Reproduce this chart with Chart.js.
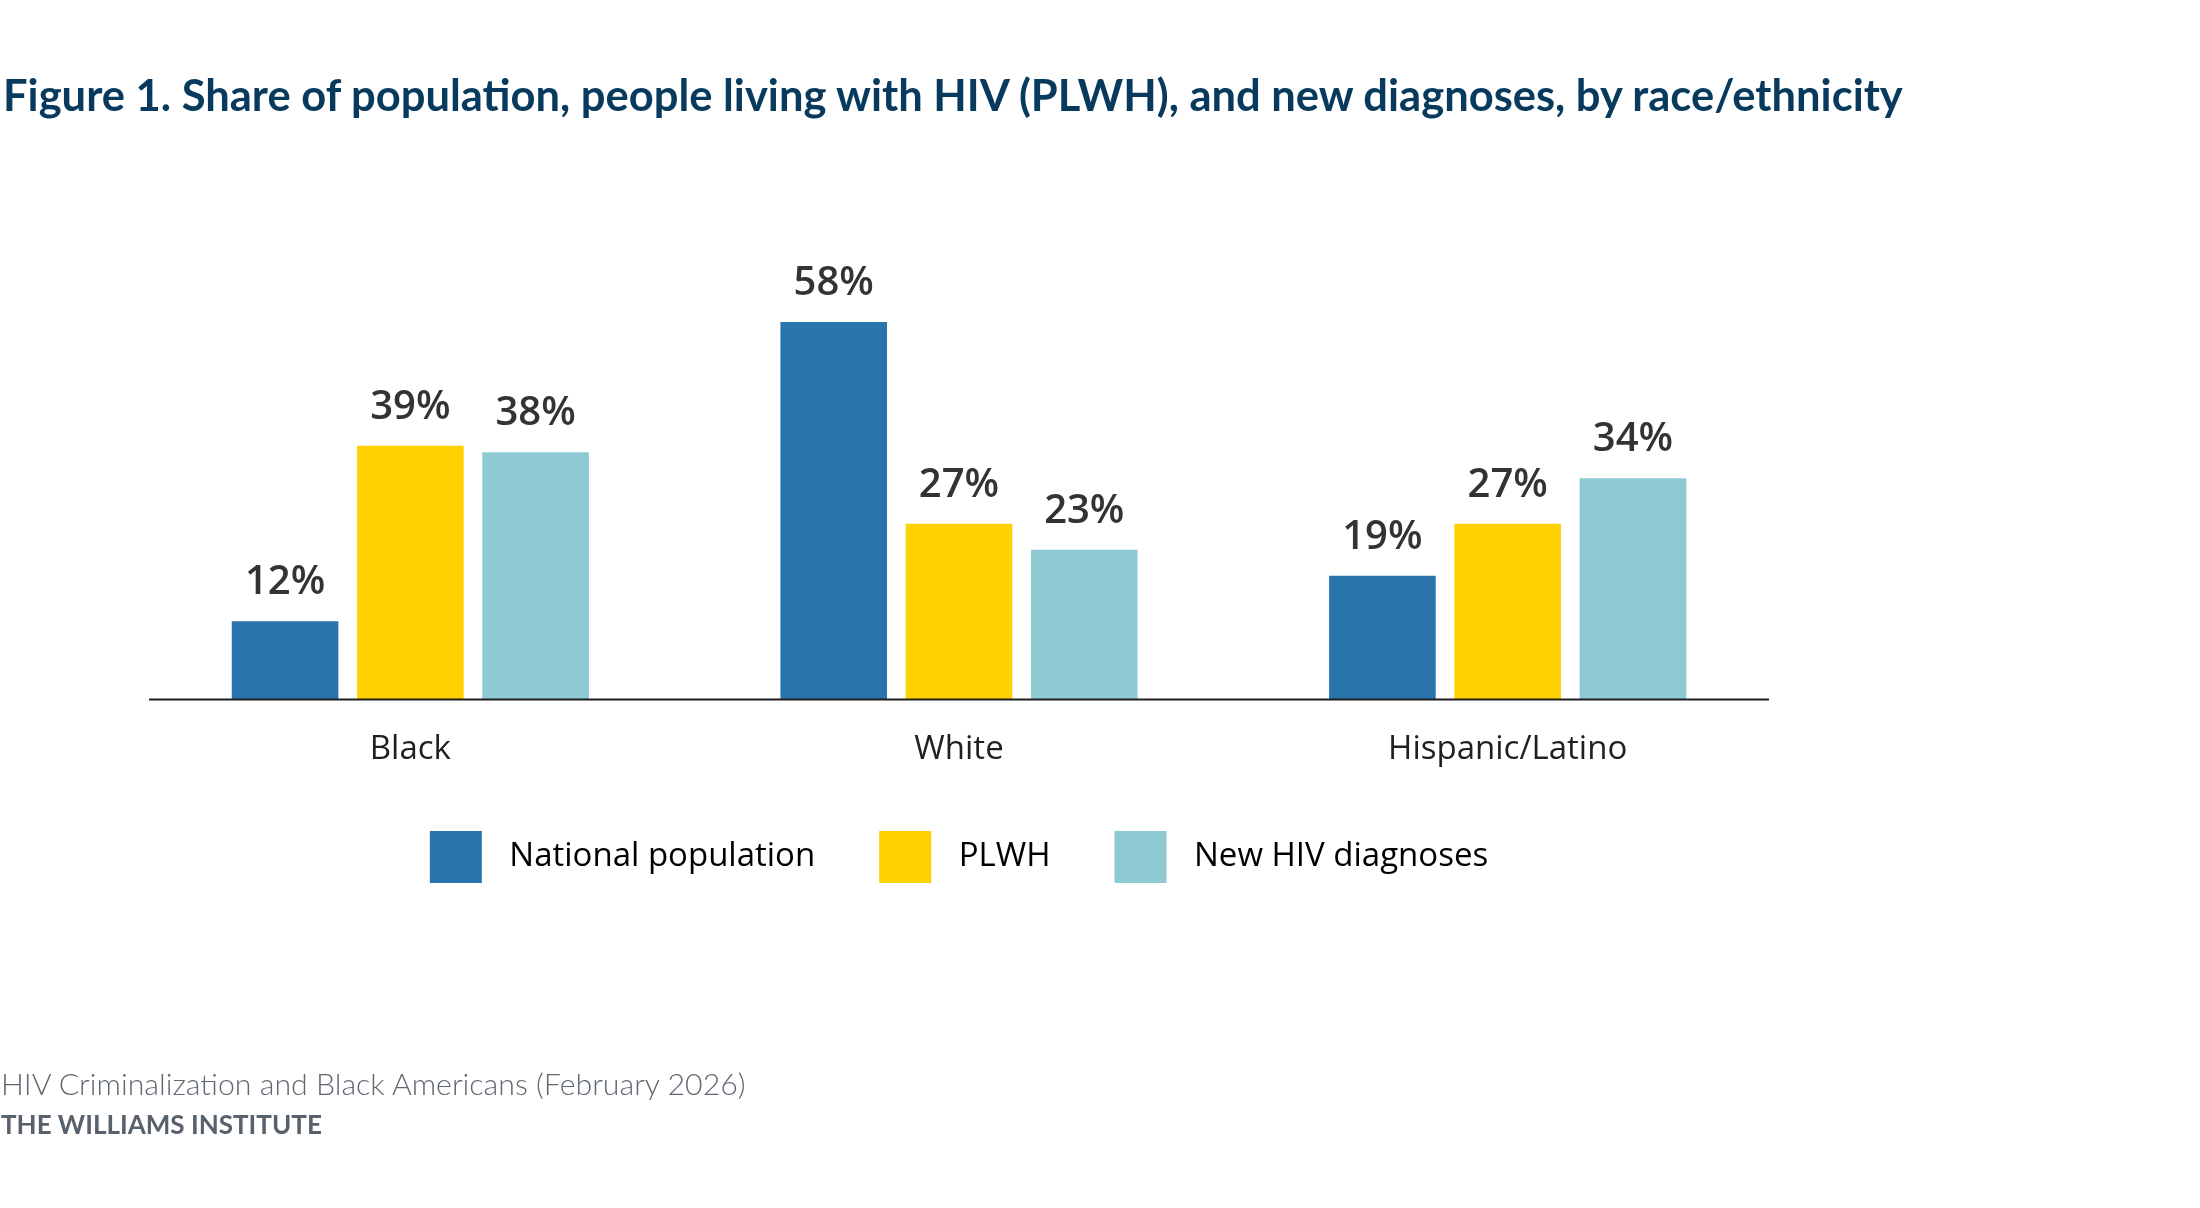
<!DOCTYPE html>
<html>
<head>
<meta charset="utf-8">
<script src="https://cdn.jsdelivr.net/npm/chart.js@4.4.1/dist/chart.umd.min.js"></script>
<style>
  html, body { margin: 0; padding: 0; background: #ffffff; }
  body { width: 2200px; height: 1208px; position: relative; overflow: hidden; }
  #chart { position: absolute; left: 0; top: 0; }
  .txt { position: absolute; white-space: nowrap; line-height: 1; font-family: Lato, "Open Sans", sans-serif; }
  #title { font-weight: 700; color: #073a5c; }
  #src { font-weight: 300; color: #5f6770; }
  #org { font-weight: 700; color: #58626c; }
</style>
</head>
<body>
<canvas id="chart" width="2200" height="1208"></canvas>
<div id="title" class="txt">Figure 1. Share of population, people living with HIV (PLWH), and new diagnoses, by race/ethnicity</div>
<div id="src" class="txt">HIV Criminalization and Black Americans (February 2026)</div>
<div id="org" class="txt">THE WILLIAMS INSTITUTE</div>
<script>
// ---- data ----
const categories = ['Black', 'White', 'Hispanic/Latino'];
const seriesNames = ['National population', 'PLWH', 'New HIV diagnoses'];
const nationalPopulation = [12, 58, 19];
const plwh = [39, 27, 27];
const newDiagnoses = [38, 23, 34];
const valueSuffix = '%';

// ---- styles ----
const seriesColors = ['#2a74ad', '#ffd100', '#8dcad4'];
const chartFont = '"Open Sans", "Noto Sans", sans-serif';

const barLabels = {
  id: 'barLabels',
  afterDatasetsDraw(chart) {
    const ctx = chart.ctx;
    ctx.save();
    ctx.font = '600 40px ' + chartFont;
    ctx.fillStyle = '#333333';
    ctx.textAlign = 'center';
    ctx.textBaseline = 'alphabetic';
    chart.data.datasets.forEach((ds, i) => {
      const meta = chart.getDatasetMeta(i);
      meta.data.forEach((bar, j) => {
        ctx.fillText(ds.data[j] + valueSuffix, bar.x, bar.y - 27);
      });
    });
    ctx.restore();
  }
};

const baseline = {
  id: 'baseline',
  afterDatasetsDraw(chart, args, opts) {
    const ctx = chart.ctx;
    const y = chart.scales.y.getPixelForValue(0);
    const a = chart.chartArea;
    ctx.save();
    ctx.strokeStyle = opts.color;
    ctx.lineWidth = opts.width;
    ctx.beginPath();
    ctx.moveTo(a.left + opts.inset, y);
    ctx.lineTo(a.right - opts.inset, y);
    ctx.stroke();
    ctx.restore();
  }
};

const datasetValues = [nationalPopulation, plwh, newDiagnoses];

new Chart(document.getElementById('chart'), {
  type: 'bar',
  data: {
    labels: categories,
    datasets: seriesNames.map((name, i) => ({
      label: name,
      data: datasetValues[i],
      backgroundColor: seriesColors[i],
      borderWidth: 0,
      categoryPercentage: 0.685,
      barPercentage: 0.851
    }))
  },
  options: {
    responsive: false,
    devicePixelRatio: 1,
    animation: false,
    layout: { padding: { left: 136, right: 418, top: 244, bottom: 315 } },
    scales: {
      x: {
        clip: false,
        grid: { display: false, drawTicks: false },
        border: { display: false },
        ticks: { color: '#231f20', font: { family: chartFont, size: 33 }, padding: 30 },
        afterFit(scale) { scale.height = scale.height - 32; }
      },
      y: { display: false, min: 0, max: 70 }
    },
    plugins: {
      legend: {
        position: 'bottom',
        labels: {
          boxWidth: 52,
          boxHeight: 52,
          padding: 64,
          color: '#231f20',
          font: { family: chartFont, size: 33 },
          generateLabels(chart) {
            return chart.data.datasets.map((ds, i) => ({
              text: '\u2009\u2009' + ds.label,
              fillStyle: ds.backgroundColor,
              strokeStyle: ds.backgroundColor,
              lineWidth: 0,
              hidden: false,
              datasetIndex: i
            }));
          }
        }
      },
      tooltip: { enabled: false },
      baseline: { color: '#1e1e1e', width: 2, inset: 13 }
    }
  },
  plugins: [barLabels, baseline]
});

function place(id, left, base, width, size) {
  const el = document.getElementById(id);
  el.style.fontSize = size + 'px';
  el.style.left = left + 'px';
  const w = el.getBoundingClientRect().width;
  const fs = size * width / w;
  el.style.fontSize = fs + 'px';
  el.style.top = (base - 0.887 * fs) + 'px';
}
place('title', 3, 112, 1900, 40);
place('src', 1, 1095, 745, 26);
place('org', 1, 1134, 321, 27);
</script>
</body>
</html>
